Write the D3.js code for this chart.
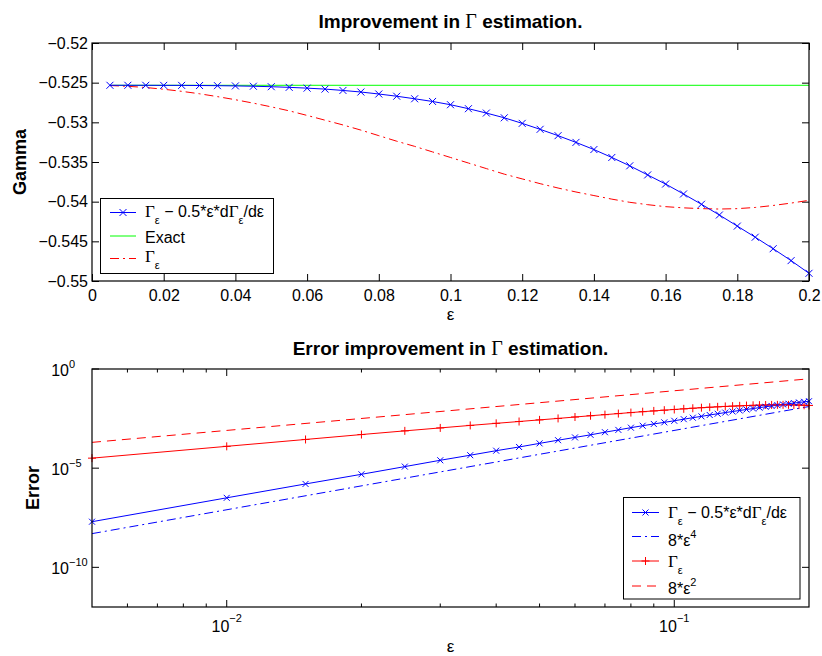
<!DOCTYPE html>
<html>
<head>
<meta charset="utf-8">
<script src="https://cdn.jsdelivr.net/npm/d3@7"></script>
<style>
  html, body { margin: 0; padding: 0; background: #fff; }
  svg { display: block; font-family: "Liberation Sans", Arial, Helvetica, sans-serif; }
  .greek { font-family: "Liberation Serif", "Times New Roman", serif; }
</style>
</head>
<body>
<svg id="chart" width="822" height="656"></svg>
<script>
// Step sizes used in the runs
const eps = [0.005,0.010,0.015,0.020,0.025,0.030,0.035,0.040,0.045,0.050,
             0.055,0.060,0.065,0.070,0.075,0.080,0.085,0.090,0.095,0.100,
             0.105,0.110,0.115,0.120,0.125,0.130,0.135,0.140,0.145,0.150,
             0.155,0.160,0.165,0.170,0.175,0.180,0.185,0.190,0.195,0.200];

// Exact value of Gamma
const gammaExact = -0.52533;

// Extrapolated estimate  Γε − 0.5·ε·dΓε/dε
const gammaImproved = [-0.52533,-0.52533,-0.52533,-0.52534,-0.52534,-0.52536,-0.52538,-0.52541,-0.52545,-0.52551,
                       -0.52559,-0.52569,-0.52581,-0.52598,-0.52618,-0.52643,-0.52671,-0.52703,-0.52737,-0.52778,
                       -0.52828,-0.52883,-0.52943,-0.53013,-0.53088,-0.53168,-0.53253,-0.53343,-0.53443,-0.53548,
                       -0.53663,-0.53778,-0.53903,-0.54033,-0.54168,-0.54308,-0.54448,-0.54593,-0.54743,-0.54903];

// Raw estimate Γε
const gammaEps = [-0.52536,-0.52546,-0.52561,-0.52583,-0.52609,-0.52640,-0.52676,-0.52715,-0.52758,-0.52805,
                  -0.52855,-0.52913,-0.52973,-0.53033,-0.53098,-0.53168,-0.53238,-0.53303,-0.53373,-0.53443,
                  -0.53513,-0.53583,-0.53653,-0.53713,-0.53773,-0.53828,-0.53878,-0.53923,-0.53968,-0.54008,
                  -0.54038,-0.54063,-0.54078,-0.54088,-0.54093,-0.54088,-0.54073,-0.54048,-0.54018,-0.53983];

// Absolute errors against the exact value
const errImproved = [2.0e-8,3.2e-7,1.6e-6,4.9e-6,1.2e-5,2.5e-5,4.5e-5,7.6e-5,1.17e-4,1.78e-4,
                     2.57e-4,3.55e-4,4.8e-4,6.5e-4,8.5e-4,1.10e-3,1.38e-3,1.70e-3,2.04e-3,2.45e-3,
                     2.95e-3,3.5e-3,4.1e-3,4.8e-3,5.55e-3,6.35e-3,7.2e-3,8.1e-3,9.1e-3,1.015e-2,
                     1.13e-2,1.245e-2,1.37e-2,1.5e-2,1.635e-2,1.775e-2,1.915e-2,2.06e-2,2.21e-2,2.37e-2];
const errEps = [3.2e-5,1.26e-4,2.8e-4,4.95e-4,7.6e-4,1.07e-3,1.43e-3,1.82e-3,2.25e-3,2.72e-3,
                3.22e-3,3.8e-3,4.4e-3,5.0e-3,5.65e-3,6.35e-3,7.05e-3,7.7e-3,8.4e-3,9.1e-3,
                9.8e-3,1.05e-2,1.12e-2,1.18e-2,1.24e-2,1.295e-2,1.345e-2,1.39e-2,1.435e-2,1.475e-2,
                1.505e-2,1.53e-2,1.545e-2,1.555e-2,1.56e-2,1.555e-2,1.54e-2,1.515e-2,1.485e-2,1.45e-2];

// Reference slopes 8·ε⁴ and 8·ε² (straight in log-log, two end points each)
const refEps = [0.005, 0.2];
const ref4 = [5e-9, 1.28e-2];
const ref2 = [2e-4, 0.32];

// Tick values
const topXTicks = [0,0.02,0.04,0.06,0.08,0.1,0.12,0.14,0.16,0.18,0.2];
const topYTicks = [-0.55,-0.545,-0.54,-0.535,-0.53,-0.525,-0.52];
const botXMajor = [0.01, 0.1];
const botXMinor = [0.006,0.007,0.008,0.009,0.02,0.03,0.04,0.05,0.06,0.07,0.08,0.09];
const botYMajor = [1, 1e-5, 1e-10];

const BLUE = "#0000ff", RED = "#ff0000", GREEN = "#00ff00";
const FS = 16;      // tick and legend text
const FS_T = 19;    // titles
const FS_L = 18;    // axis labels
const svg = d3.select("#chart");

// ---------- layout ----------
const L = 92, R = 809;
const top1 = 43, bot1 = 281;
const top2 = 369, bot2 = 607;

const x1 = d3.scaleLinear().domain([0, 0.2]).range([L, R]);
const y1 = d3.scaleLinear().domain([-0.55, -0.52]).range([bot1, top1]);
const x2 = d3.scaleLog().domain([0.005, 0.2]).range([L, R]);
const y2 = d3.scaleLog().domain([1e-12, 1]).range([bot2, top2]);

function xMark(g, px, py, s, color) {
  g.append("path")
    .attr("d", `M${px-s},${py-s}L${px+s},${py+s}M${px-s},${py+s}L${px+s},${py-s}`)
    .attr("stroke", color).attr("stroke-width", 1).attr("fill", "none");
}
function plusMark(g, px, py, s, color) {
  g.append("path")
    .attr("d", `M${px-s},${py}L${px+s},${py}M${px},${py-s}L${px},${py+s}`)
    .attr("stroke", color).attr("stroke-width", 1).attr("fill", "none");
}

const DASHDOT = "9,4,2,4";
const DASHED = "9,6";

// ================= Top panel =================
const p1 = svg.append("g");
svg.append("clipPath").attr("id", "c1").append("rect")
  .attr("x", L).attr("y", top1).attr("width", R - L).attr("height", bot1 - top1);

const axB1 = d3.axisBottom(x1).tickValues(topXTicks).tickSize(-7).tickPadding(9)
  .tickFormat(d => String(+d.toFixed(2)));
const axT1 = d3.axisTop(x1).tickValues(topXTicks).tickSize(-7).tickFormat("");
const axL1 = d3.axisLeft(y1).tickValues(topYTicks).tickSize(-7).tickPadding(4)
  .tickFormat(d => "\u2212" + (-d).toFixed(3).replace(/0+$/, ""));
const axR1 = d3.axisRight(y1).tickValues(topYTicks).tickSize(-7).tickFormat("");

function styleAxis(g) {
  g.select(".domain").remove();
  g.selectAll("line").attr("stroke", "#000").attr("stroke-width", 1);
  g.selectAll("text").attr("font-size", FS).attr("fill", "#000")
    .attr("font-family", '"Liberation Sans", Arial, sans-serif');
}
p1.append("g").attr("transform", `translate(0,${bot1})`).call(axB1).call(styleAxis);
p1.append("g").attr("transform", `translate(0,${top1})`).call(axT1).call(styleAxis);
p1.append("g").attr("transform", `translate(${L},0)`).call(axL1).call(styleAxis);
p1.append("g").attr("transform", `translate(${R},0)`).call(axR1).call(styleAxis);

const data1 = eps.map((e, i) => ({ e, imp: gammaImproved[i], raw: gammaEps[i] }));
const plot1 = p1.append("g").attr("clip-path", "url(#c1)");

// exact value
plot1.append("path")
  .attr("d", d3.line()([[x1(eps[0]), y1(gammaExact)], [x1(eps[eps.length - 1]), y1(gammaExact)]]))
  .attr("stroke", GREEN).attr("fill", "none").attr("stroke-width", 1);
// raw estimate
plot1.append("path").datum(data1)
  .attr("d", d3.line().x(d => x1(d.e)).y(d => y1(d.raw)))
  .attr("stroke", RED).attr("fill", "none").attr("stroke-width", 1)
  .attr("stroke-dasharray", DASHDOT);
// improved estimate
plot1.append("path").datum(data1)
  .attr("d", d3.line().x(d => x1(d.e)).y(d => y1(d.imp)))
  .attr("stroke", BLUE).attr("fill", "none").attr("stroke-width", 1);
const mk1 = p1.append("g");
data1.forEach(d => xMark(mk1, x1(d.e), y1(d.imp), 3.5, BLUE));

p1.append("rect").attr("x", L).attr("y", top1).attr("width", R - L).attr("height", bot1 - top1)
  .attr("fill", "none").attr("stroke", "#000").attr("stroke-width", 1.2);

// title
const t1 = svg.append("text").attr("x", (L + R) / 2).attr("y", 28).attr("text-anchor", "middle")
  .attr("font-size", FS_T).attr("font-weight", "bold");
t1.append("tspan").text("Improvement in ");
t1.append("tspan").attr("class", "greek").attr("font-weight", "normal").attr("font-size", 20).text("\u0393");
t1.append("tspan").text(" estimation.");

svg.append("text").attr("transform", `translate(20,${(top1 + bot1) / 2}) rotate(-90)`)
  .attr("text-anchor", "middle").attr("dy", "0.35em").attr("font-size", FS_L).attr("font-weight", "bold")
  .text("Gamma");
svg.append("text").attr("x", (L + R) / 2).attr("y", 320).attr("text-anchor", "middle")
  .attr("font-size", 17).text("\u03b5");

// ---- legends ----
function legendText(g, x, y, parts) {
  const t = g.append("text").attr("x", x).attr("y", y).attr("font-size", FS);
  parts.forEach(p => {
    const s = t.append("tspan").text(p.t);
    if (p.g) s.attr("class", "greek").attr("font-size", 17);
    if (p.sub) s.attr("dy", 7).attr("font-size", 11);
    if (p.sup) s.attr("dy", -8).attr("font-size", 11);
    if (p.back) s.attr("dy", p.back);
  });
  return t;
}
const GAMMA_IMP = [
  { t: "\u0393", g: true }, { t: "\u03b5", sub: true },
  { t: " \u2212 0.5*\u03b5*d", back: -7 }, { t: "\u0393", g: true }, { t: "\u03b5", sub: true },
  { t: "/d\u03b5", back: -7 }
];
const lg1 = svg.append("g");
lg1.append("rect").attr("x", 100.5).attr("y", 198.5).attr("width", 173).attr("height", 75)
  .attr("fill", "#fff").attr("stroke", "#000").attr("stroke-width", 1);
const legRows1 = [
  { y: 212.5, base: 4.5, color: BLUE, dash: null, mark: "x", label: GAMMA_IMP },
  { y: 236, base: 7, color: GREEN, dash: null, mark: null, label: [{ t: "Exact" }] },
  { y: 258.5, base: 3.5, color: RED, dash: DASHDOT, mark: null, label: [{ t: "\u0393", g: true }, { t: "\u03b5", sub: true }] }
];
legRows1.forEach(r => {
  lg1.append("line").attr("x1", 110).attr("x2", 136).attr("y1", r.y).attr("y2", r.y)
    .attr("stroke", r.color).attr("stroke-width", 1).attr("stroke-dasharray", r.dash);
  if (r.mark === "x") xMark(lg1, 123, r.y, 3.5, r.color);
  legendText(lg1, 145, r.y + r.base, r.label);
});

// ================= Bottom panel =================
const p2 = svg.append("g");
svg.append("clipPath").attr("id", "c2").append("rect")
  .attr("x", L).attr("y", top2).attr("width", R - L).attr("height", bot2 - top2);

function ticksX(vals, len) {
  vals.forEach(v => {
    const px = x2(v);
    p2.append("line").attr("x1", px).attr("x2", px).attr("y1", bot2).attr("y2", bot2 - len).attr("stroke", "#000");
    p2.append("line").attr("x1", px).attr("x2", px).attr("y1", top2).attr("y2", top2 + len).attr("stroke", "#000");
  });
}
ticksX(botXMajor, 7);
ticksX(botXMinor, 3.5);
botYMajor.forEach(v => {
  const py = y2(v);
  p2.append("line").attr("x1", L).attr("x2", L + 7).attr("y1", py).attr("y2", py).attr("stroke", "#000");
  p2.append("line").attr("x1", R).attr("x2", R - 7).attr("y1", py).attr("y2", py).attr("stroke", "#000");
});

function expText(v) {
  const e = Math.round(Math.log10(v));
  return e === 0 ? "0" : "\u2212" + (-e);
}
// y labels: the "10" ends at a fixed x, exponent follows
botYMajor.forEach(v => {
  const py = y2(v);
  p2.append("text").attr("x", 69).attr("y", py + 7).attr("text-anchor", "end")
    .attr("font-size", FS).text("10");
  p2.append("text").attr("x", 69).attr("y", py - 1.5).attr("font-size", 11).text(expText(v));
});
// x labels: whole "10^e" centred under the tick
botXMajor.forEach(v => {
  const t = p2.append("text").attr("x", x2(v)).attr("y", 632).attr("text-anchor", "middle")
    .attr("font-size", FS);
  t.append("tspan").text("10");
  t.append("tspan").attr("dy", -10).attr("font-size", 11).text(expText(v));
});

const data2 = eps.map((e, i) => ({ e, imp: errImproved[i], raw: errEps[i] }));
const plot2 = p2.append("g").attr("clip-path", "url(#c2)");
const lineRef = d3.line().x(d => x2(d[0])).y(d => y2(d[1]));

plot2.append("path").datum(refEps.map((e, i) => [e, ref2[i]])).attr("d", lineRef)
  .attr("stroke", RED).attr("fill", "none").attr("stroke-dasharray", DASHED);
plot2.append("path").datum(refEps.map((e, i) => [e, ref4[i]])).attr("d", lineRef)
  .attr("stroke", BLUE).attr("fill", "none").attr("stroke-dasharray", DASHDOT);
plot2.append("path").datum(data2).attr("d", d3.line().x(d => x2(d.e)).y(d => y2(d.raw)))
  .attr("stroke", RED).attr("fill", "none");
plot2.append("path").datum(data2).attr("d", d3.line().x(d => x2(d.e)).y(d => y2(d.imp)))
  .attr("stroke", BLUE).attr("fill", "none");
const mk2 = p2.append("g");
data2.forEach(d => plusMark(mk2, x2(d.e), y2(d.raw), 4, RED));
data2.forEach(d => xMark(mk2, x2(d.e), y2(d.imp), 3, BLUE));

p2.append("rect").attr("x", L).attr("y", top2).attr("width", R - L).attr("height", bot2 - top2)
  .attr("fill", "none").attr("stroke", "#000").attr("stroke-width", 1.2);

const t2 = svg.append("text").attr("x", (L + R) / 2).attr("y", 355).attr("text-anchor", "middle")
  .attr("font-size", FS_T).attr("font-weight", "bold");
t2.append("tspan").text("Error improvement in ");
t2.append("tspan").attr("class", "greek").attr("font-weight", "normal").attr("font-size", 20).text("\u0393");
t2.append("tspan").text(" estimation.");

svg.append("text").attr("transform", `translate(33,${(top2 + bot2) / 2}) rotate(-90)`)
  .attr("text-anchor", "middle").attr("dy", "0.35em").attr("font-size", FS_L).attr("font-weight", "bold")
  .text("Error");
svg.append("text").attr("x", (L + R) / 2).attr("y", 652).attr("text-anchor", "middle")
  .attr("font-size", 17).text("\u03b5");

const lg2 = svg.append("g");
lg2.append("rect").attr("x", 623.5).attr("y", 497.5).attr("width", 176.5).attr("height", 101.5)
  .attr("fill", "#fff").attr("stroke", "#000").attr("stroke-width", 1);
const legRows2 = [
  { y: 512.5, base: 5, color: BLUE, dash: null, mark: "x", label: GAMMA_IMP },
  { y: 536.5, base: 9.5, color: BLUE, dash: DASHDOT, mark: null, label: [{ t: "8*" }, { t: "\u03b5" }, { t: "4", sup: true }] },
  { y: 561, base: 6, color: RED, dash: null, mark: "+", label: [{ t: "\u0393", g: true }, { t: "\u03b5", sub: true }] },
  { y: 586, base: 7.5, color: RED, dash: DASHED, mark: null, label: [{ t: "8*" }, { t: "\u03b5" }, { t: "2", sup: true }] }
];
legRows2.forEach(r => {
  lg2.append("line").attr("x1", 632).attr("x2", 659).attr("y1", r.y).attr("y2", r.y)
    .attr("stroke", r.color).attr("stroke-width", 1).attr("stroke-dasharray", r.dash);
  if (r.mark === "x") xMark(lg2, 645.5, r.y, 3, r.color);
  if (r.mark === "+") plusMark(lg2, 645.5, r.y, 4, r.color);
  legendText(lg2, 668, r.y + r.base, r.label);
});
</script>
</body>
</html>
